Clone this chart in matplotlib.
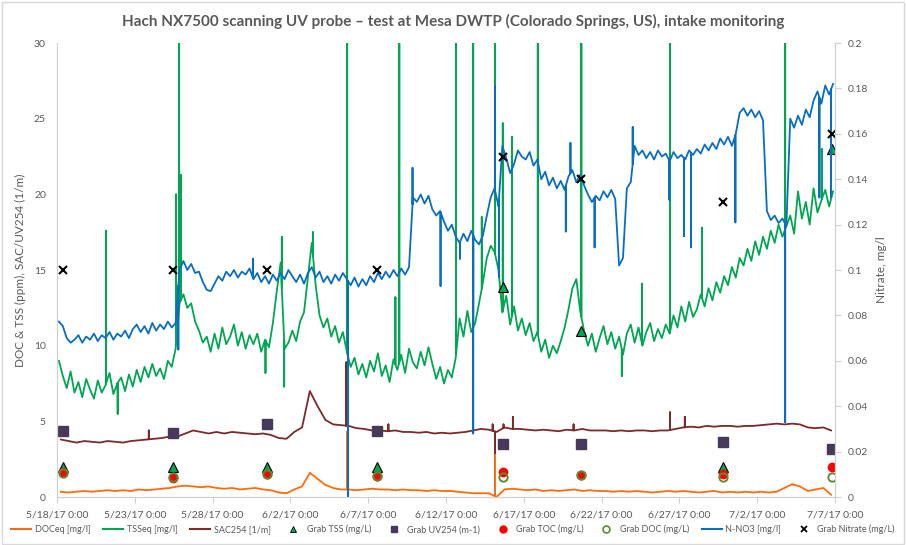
import datetime as dt
import numpy as np
import matplotlib
matplotlib.use("Agg")
import matplotlib.pyplot as plt
from matplotlib.lines import Line2D
from matplotlib.patches import Rectangle

plt.rcParams['font.family'] = ['Lato', 'DejaVu Sans']

start = dt.datetime(2017, 5, 18)

# half-day grid (days after 5/18/17 0:00) for the smoother series
days = [0.25 + 0.5 * k for k in range(100)]
# quarter-day grid for the noisy ones
days_q = [0.125 + 0.25 * k for k in range(200)]

doceq = [0.35, 0.3, 0.35, 0.4, 0.35, 0.4, 0.45, 0.4, 0.45, 0.4,
         0.5, 0.45, 0.5, 0.55, 0.6, 0.7, 0.75, 0.7, 0.65, 0.7,
         0.6, 0.55, 0.6, 0.5, 0.55, 0.6, 0.5, 0.45, 0.3, 0.25,
         0.5, 0.7, 1.6, 1.2, 0.8, 0.6, 0.5, 0.5, 0.45, 0.5,
         0.55, 0.5, 0.5, 0.45, 0.5, 0.45, 0.45, 0.4, 0.45, 0.4,
         0.4, 0.35, 0.3, 0.25, 0.25, 0.25, 0.0, 0.5, 0.55, 0.5,
         0.45, 0.5, 0.4, 0.45, 0.4, 0.45, 0.5, 0.4, 0.45, 0.4,
         0.4, 0.35, 0.4, 0.35, 0.4, 0.35, 0.3, 0.35, 0.4, 0.35,
         0.4, 0.35, 0.3, 0.35, 0.4, 0.3, 0.35, 0.3, 0.35, 0.3,
         0.35, 0.3, 0.35, 0.6, 0.85, 0.7, 0.4, 0.5, 0.6, 0.15]

sac254 = [3.8, 3.7, 3.6, 3.7, 3.65, 3.6, 3.7, 3.65, 3.6, 3.7,
          3.75, 3.8, 3.85, 3.9, 4.0, 4.0, 4.2, 4.4, 4.3, 4.2,
          4.3, 4.2, 4.3, 4.25, 4.2, 4.15, 4.2, 4.1, 3.9, 3.85,
          4.3, 4.6, 7.0, 6.0, 5.1, 4.8, 4.75, 4.7, 4.55, 4.5,
          4.4, 4.4, 4.35, 4.4, 4.3, 4.3, 4.25, 4.3, 4.2, 4.25,
          4.2, 4.25, 4.3, 4.4, 4.5, 4.45, 4.3, 4.6, 4.5, 4.5,
          4.45, 4.4, 4.45, 4.4, 4.35, 4.45, 4.4, 4.5, 4.4, 4.4,
          4.4, 4.35, 4.4, 4.35, 4.4, 4.4, 4.35, 4.4, 4.4, 4.5,
          4.6, 4.65, 4.6, 4.7, 4.65, 4.7, 4.7, 4.65, 4.7, 4.7,
          4.75, 4.8, 4.85, 4.8, 4.85, 4.8, 4.6, 4.55, 4.6, 4.4]

tsseq = [9.0, 8.0, 7.2, 8.3, 6.9, 7.6, 6.6, 7.8, 7.1, 6.5, 7.7, 6.9,
         7.4, 8.2, 6.8, 7.5, 7.9, 7.0, 8.1, 7.3, 8.4, 7.6, 8.6, 7.9,
         8.8, 8.0, 8.5, 7.8, 9.0, 8.6, 9.8, 12.8, 13.4, 12.5, 12.8, 11.6,
         11.0, 10.2, 10.6, 9.6, 10.8, 9.8, 11.2, 10.1, 10.6, 11.4, 10.0, 10.9,
         9.8, 10.7, 10.1, 10.8, 9.6, 10.4, 9.9, 11.5, 13.6, 15.5, 9.8, 10.2,
         11.0, 10.3, 11.6, 12.2, 14.5, 16.8, 14.0, 12.0, 11.2, 11.8, 10.6, 11.3,
         10.2, 10.9, 9.6, 8.6, 9.2, 8.1, 8.8, 7.9, 9.0, 8.3, 9.5, 8.0,
         8.7, 7.6, 9.1, 8.4, 9.4, 8.2, 9.8, 8.9, 8.5, 9.6, 8.7, 9.9,
         8.8, 7.8, 8.6, 7.5, 8.4, 7.9, 9.2, 11.8, 10.6, 12.3, 10.9, 11.5,
         12.8, 14.2, 15.8, 16.6, 16.2, 15.0, 12.2, 13.3, 11.4, 12.6, 11.0, 11.8,
         10.7, 11.5, 10.3, 10.9, 9.6, 10.4, 9.2, 10.0, 9.5, 10.3, 11.2, 12.4,
         13.8, 14.4, 12.3, 11.0, 10.0, 10.8, 9.6, 10.5, 11.3, 10.1, 10.9, 9.8,
         10.6, 9.4, 10.8, 11.4, 10.2, 11.2, 10.0, 10.9, 11.5, 10.3, 11.1, 10.5,
         11.4, 10.8, 12.0, 11.2, 12.6, 11.6, 12.9, 11.9, 12.4, 13.4, 12.6, 13.8,
         13.0, 14.2, 13.5, 14.6, 14.0, 15.2, 14.5, 15.8, 15.3, 16.4, 15.6, 16.9,
         16.0, 17.2, 16.4, 17.6, 16.8, 18.0, 17.2, 17.9, 18.6, 17.4, 20.2, 18.4,
         19.5, 18.0, 20.4, 18.8, 19.6, 20.3, 19.2, 20.2]

no3 = [0.0773, 0.0753, 0.0700, 0.0680, 0.0693, 0.0713, 0.0680, 0.0707,
       0.0693, 0.0720, 0.0687, 0.0713, 0.0700, 0.0727, 0.0693, 0.0720,
       0.0707, 0.0733, 0.0700, 0.0740, 0.0760, 0.0727, 0.0753, 0.0720,
       0.0767, 0.0733, 0.0760, 0.0740, 0.0773, 0.0747, 0.0767, 0.1000,
       0.1040, 0.1000, 0.1027, 0.0987, 0.0993, 0.0947, 0.0913, 0.0907,
       0.0940, 0.0973, 0.0953, 0.0993, 0.0973, 0.1000, 0.0967, 0.0993,
       0.0980, 0.1007, 0.0960, 0.0987, 0.0947, 0.0973, 0.0940, 0.0980,
       0.0953, 0.0987, 0.0960, 0.1000, 0.0973, 0.0947, 0.0980, 0.0940,
       0.0987, 0.1013, 0.0967, 0.0993, 0.0947, 0.0973, 0.0940, 0.0980,
       0.0953, 0.0987, 0.0960, 0.0933, 0.0967, 0.0927, 0.0960, 0.0933,
       0.0973, 0.0947, 0.0987, 0.0960, 0.0993, 0.0967, 0.1000, 0.0973,
       0.1007, 0.0980, 0.1013, 0.1320, 0.1300, 0.1333, 0.1293, 0.1327,
       0.1267, 0.1240, 0.1260, 0.1213, 0.1173, 0.1200, 0.1147, 0.1120,
       0.1160, 0.1127, 0.1173, 0.1133, 0.1113, 0.1153, 0.1240, 0.1320,
       0.1360, 0.1280, 0.1547, 0.1493, 0.1427, 0.1467, 0.1527, 0.1500,
       0.1487, 0.1520, 0.1460, 0.1487, 0.1400, 0.1433, 0.1373, 0.1407,
       0.1360, 0.1393, 0.1353, 0.1413, 0.1440, 0.1387, 0.1420, 0.1373,
       0.1333, 0.1300, 0.1327, 0.1307, 0.1347, 0.1320, 0.1353, 0.1313,
       0.1020, 0.1053, 0.1360, 0.1387, 0.1547, 0.1507, 0.1527, 0.1493,
       0.1520, 0.1487, 0.1527, 0.1500, 0.1513, 0.1480, 0.1520, 0.1493,
       0.1507, 0.1487, 0.1527, 0.1507, 0.1533, 0.1513, 0.1553, 0.1527,
       0.1560, 0.1533, 0.1580, 0.1553, 0.1587, 0.1547, 0.1600, 0.1693,
       0.1713, 0.1680, 0.1707, 0.1673, 0.1700, 0.1660, 0.1260, 0.1220,
       0.1240, 0.1207, 0.1227, 0.1193, 0.1667, 0.1627, 0.1680, 0.1640,
       0.1707, 0.1673, 0.1747, 0.1787, 0.1733, 0.1813, 0.1773, 0.1820]

# short spikes: (day, value)
doceq_spikes = [(18.65, 4.3), (28.15, 3.6)]
tsseq_spikes = [(3.15, 17.6), (3.9, 5.5), (7.65, 20.0), (7.85, 32), (7.95, 21.3),
                (13.4, 8.2), (14.45, 17.2), (14.6, 7.3), (16.45, 17.5),
                (18.65, 32), (21.75, 13.2), (22.0, 32), (25.65, 32), (26.75, 32),
                (27.3, 18.5), (28.15, 32), (28.65, 24.7), (29.25, 23.8), (30.9, 32),
                (33.7, 32), (36.3, 8.0), (37.6, 14.1), (39.4, 32), (41.45, 17.8),
                (46.8, 32), (49.15, 23.0)]
sac_spikes = [(5.9, 4.4), (18.6, 8.9), (21.3, 4.8), (28.0, 4.8), (28.15, 2.9),
              (28.7, 4.8), (29.3, 5.3), (33.2, 4.8), (39.4, 5.6), (40.35, 5.3)]
no3_spikes = [(7.8, 0.065), (12.6, 0.105), (18.7, 0.0), (22.85, 0.145),
              (24.65, 0.093), (25.9, 0.105), (26.75, 0.028), (28.15, 0.181),
              (28.4, 0.097), (32.7, 0.117), (33.0, 0.156), (34.55, 0.110),
              (37.0, 0.163), (39.35, 0.131), (40.3, 0.115), (40.75, 0.110),
              (43.6, 0.121), (46.8, 0.033), (49.0, 0.132), (49.75, 0.132)]

# grab samples
grab_days = [0.39, 7.46, 13.5, 20.57, 28.66, 33.68, 42.8, 49.8]
grab_tss = [2.0, 2.0, 2.0, 2.0, 13.9, 11.0, 2.0, 23.0]
grab_uv254 = [4.35, 4.2, 4.8, 4.35, 3.5, 3.5, 3.65, 3.2]
grab_toc = [1.65, 1.25, 1.55, 1.4, 1.65, 1.45, 1.5, 2.0]
grab_doc = [1.6, 1.3, 1.5, 1.4, 1.3, 1.45, 1.3, 1.3]
grab_nitrate = [0.1, 0.1, 0.1, 0.1, 0.15, 0.14, 0.13, 0.16]


def with_spikes(grid, vals, spikes):
    d = list(grid); v = list(vals)
    for sd, sv in spikes:
        base = float(np.interp(sd, grid, vals))
        d += [sd, sd, sd]
        v += [base, sv, base]
    order = np.argsort(d, kind='stable')
    return [d[i] for i in order], [v[i] for i in order]


def to_dates(d):
    return [start + dt.timedelta(days=x) for x in d]


c_orange = '#FF6A0D'
c_green = '#00A651'
c_red = '#7B2A2A'
c_blue = '#0A6EC0'
grey = '#595959'

fig = plt.figure(figsize=(9.06, 5.45), dpi=100)
ax = fig.add_axes([0.0629, 0.088, 0.8587, 0.833])
ax2 = ax.twinx()

for grid, vals, sp, col in [(days, doceq, doceq_spikes, c_orange),
                            (days_q, tsseq, tsseq_spikes, c_green),
                            (days, sac254, sac_spikes, c_red)]:
    dd, vv = with_spikes(grid, vals, sp)
    ax.plot(to_dates(dd), vv, color=col, lw=1.3)

gd = to_dates(grab_days)
ax.plot(gd, grab_tss, ls='none', marker='^', ms=7, mfc=c_green, mec='black', mew=0.8)
ax.plot(gd, grab_uv254, ls='none', marker='s', ms=7, mfc='#46395A', mec='#46395A')
ax.plot(gd, grab_toc, ls='none', marker='o', ms=6, mfc='#FF0000', mec='#FF0000')
ax.plot(gd, grab_doc, ls='none', marker='o', ms=6, mfc='none', mec='#5E8C2E', mew=1.4)

dd, vv = with_spikes(days_q, no3, no3_spikes)
ax2.plot(to_dates(dd), vv, color=c_blue, lw=1.3)
ax2.plot(gd, grab_nitrate, ls='none', marker='x', ms=6, mec='black', mew=1.5)

ax.set_xlim(start, start + dt.timedelta(days=50))
ax.set_ylim(0, 30)
ax2.set_ylim(0, 0.2)
ticks = [start + dt.timedelta(days=5 * k) for k in range(11)]
ax.set_xticks(ticks)
ax.set_xticklabels([f"{t.month}/{t.day}/17 0:00" for t in ticks])
ax.set_yticks(range(0, 31, 5))
ax2.set_yticks([0, 0.02, 0.04, 0.06, 0.08, 0.1, 0.12, 0.14, 0.16, 0.18, 0.2])
ax2.set_yticklabels(['0', '0.02', '0.04', '0.06', '0.08', '0.1', '0.12', '0.14',
                     '0.16', '0.18', '0.2'])

for a in (ax, ax2):
    for s in a.spines.values():
        s.set_color('#D0D0D0')
    a.spines['top'].set_visible(False)
    a.tick_params(colors='#D0D0D0', labelcolor=grey, labelsize=7.5)
ax.tick_params(axis='y', length=0, pad=8)
ax.tick_params(axis='x', length=4, pad=6)
ax2.tick_params(axis='y', length=4, pad=5)

ax.set_ylabel('DOC & TSS (ppm), SAC/UV254 (1/m)', color=grey, fontsize=8.5, labelpad=6)
ax2.set_ylabel('Nitrate, mg/l', color=grey, fontsize=8.5, labelpad=6)
fig.suptitle('Hach NX7500 scanning UV probe \u2013 test at Mesa DWTP (Colorado Springs, US), intake monitoring',
             x=0.5, y=0.975, color=grey, fontsize=11, fontweight='bold')

handles = [
    Line2D([], [], color=c_orange, lw=1.5),
    Line2D([], [], color=c_green, lw=1.5),
    Line2D([], [], color=c_red, lw=1.5),
    Line2D([], [], ls='none', marker='^', ms=5, mfc=c_green, mec='black', mew=0.6),
    Line2D([], [], ls='none', marker='s', ms=5, mfc='#46395A', mec='#46395A'),
    Line2D([], [], ls='none', marker='o', ms=5, mfc='#FF0000', mec='#FF0000'),
    Line2D([], [], ls='none', marker='o', ms=5, mfc='none', mec='#5E8C2E', mew=1.2),
    Line2D([], [], color=c_blue, lw=1.5),
    Line2D([], [], ls='none', marker='x', ms=5, mec='black', mew=1.3),
]
labels = ['DOCeq [mg/l]', 'TSSeq [mg/l]', 'SAC254 [1/m]', 'Grab TSS (mg/L)',
          'Grab UV254 (m-1)', 'Grab TOC (mg/L)', 'Grab DOC (mg/L)', 'N-NO3 [mg/l]',
          'Grab Nitrate (mg/L)']
fig.legend(handles, labels, loc='lower center', bbox_to_anchor=(0.5, 0.005), ncol=9,
           frameon=False, fontsize=6.5, labelcolor=grey, handlelength=2.2,
           handletextpad=0.4, columnspacing=1.4)

fig.patches.append(Rectangle((0.002, 0.002), 0.996, 0.994, transform=fig.transFigure,
                             fill=False, edgecolor='#D9D9D9', lw=1))

fig.savefig('out.png', dpi=100)
